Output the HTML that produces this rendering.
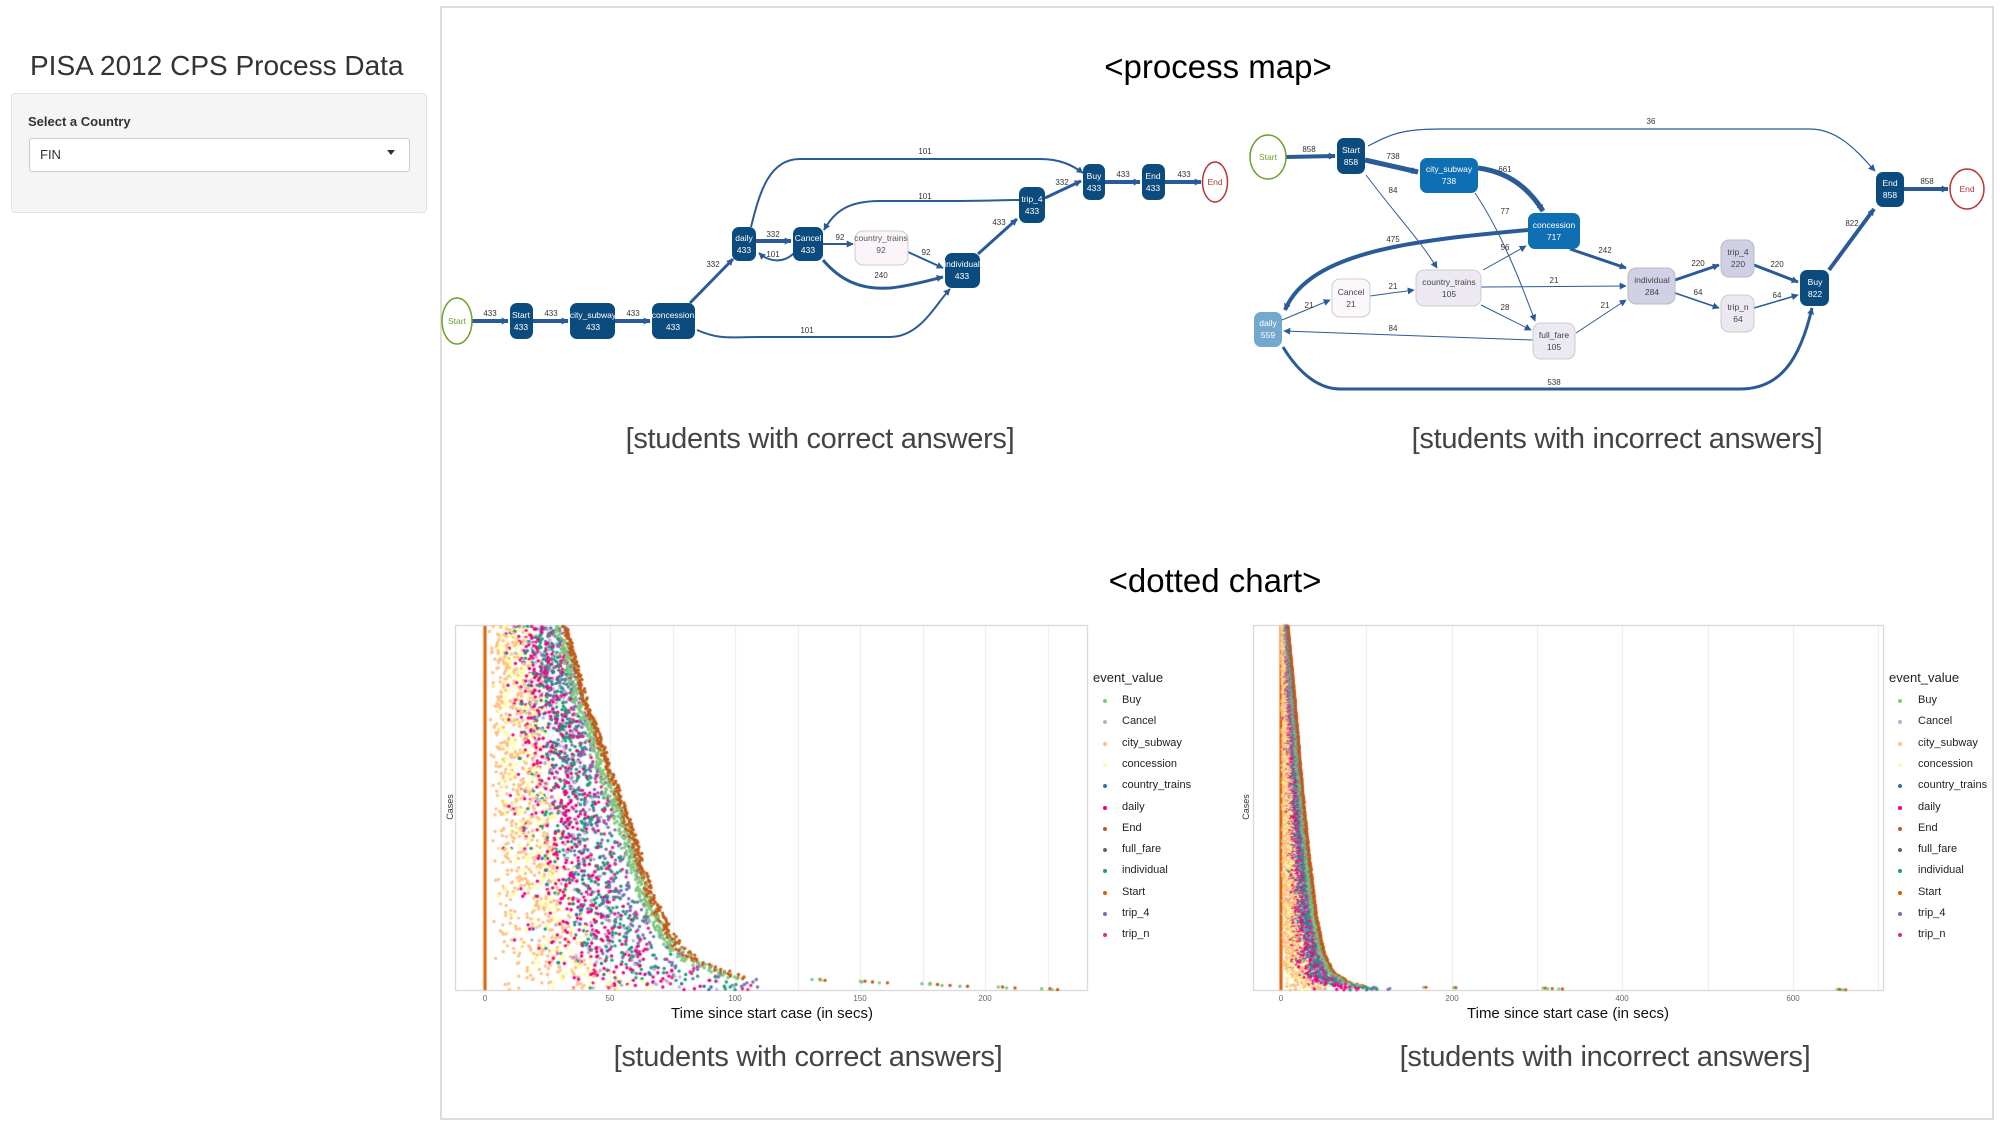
<!DOCTYPE html>
<html><head><meta charset="utf-8">
<style>
html,body{margin:0;padding:0;background:#fff;}
body{width:2000px;height:1125px;position:relative;overflow:hidden;font-family:"Liberation Sans",sans-serif;}
.abs{position:absolute;}
.title{left:30px;top:50px;font-size:28px;color:#333;white-space:nowrap;}
.side{left:11px;top:93px;width:416px;height:120px;background:#f5f5f5;border:1px solid #e3e3e3;border-radius:4px;box-sizing:border-box;}
.lbl{left:28px;top:114px;font-size:13px;font-weight:bold;color:#333;}
.sel{left:29px;top:138px;width:381px;height:34px;background:#fff;border:1px solid #ccc;border-radius:3px;box-sizing:border-box;}
.main{left:440px;top:6px;width:1554px;height:1114px;border:2px solid #ddd;border-right:2px solid #ddd;box-sizing:border-box;}
.head{font-size:33px;color:#000;white-space:nowrap;transform:translateX(-50%);}
.cap{font-size:29px;color:#444;white-space:nowrap;transform:translateX(-50%);font-weight:300;letter-spacing:-0.3px;}
.leg{font-size:11px;color:#222;white-space:nowrap;}
.lt{font-size:13px;color:#222;}
.tick{font-size:8px;color:#666;transform:translateX(-50%);}
.axt{font-size:15px;color:#111;transform:translateX(-50%);white-space:nowrap;}
.cases{font-size:9px;color:#333;transform:rotate(-90deg);transform-origin:center;}
</style></head><body>
<div class="abs title">PISA 2012 CPS Process Data</div>
<div class="abs side"></div>
<div class="abs lbl">Select a Country</div>
<div class="abs sel"></div>
<div class="abs" style="left:40px;top:147px;font-size:13px;color:#333;">FIN</div>
<div class="abs" style="left:387px;top:150px;width:0;height:0;border-left:4px solid transparent;border-right:4px solid transparent;border-top:5px solid #333;"></div>
<div class="abs main"></div>

<div class="abs head" style="left:1218px;top:48px;">&lt;process map&gt;</div>
<div class="abs head" style="left:1215px;top:562px;">&lt;dotted chart&gt;</div>
<div class="abs cap" style="left:820px;top:423px;">[students with correct answers]</div>
<div class="abs cap" style="left:1617px;top:423px;">[students with incorrect answers]</div>
<div class="abs cap" style="left:808px;top:1041px;">[students with correct answers]</div>
<div class="abs cap" style="left:1605px;top:1041px;">[students with incorrect answers]</div>

<canvas id="cv" width="2000" height="1125" class="abs" style="left:0;top:0;"></canvas>

<svg class="abs" style="left:0;top:0;" width="2000" height="1125" xmlns="http://www.w3.org/2000/svg" font-family="Liberation Sans, sans-serif">
<defs>
<marker id="ar" viewBox="0 0 10 10" refX="9" refY="5" markerWidth="7" markerHeight="7" markerUnits="userSpaceOnUse" orient="auto"><path d="M0,0L10,5L0,10z" fill="#2a5b98"/></marker>
</defs>
<g fill="none" stroke="#2a5b98" marker-end="url(#ar)">
<!-- map1 -->
<path d="M472,321L508,321" stroke-width="4"/>
<path d="M533,321L568,321" stroke-width="4"/>
<path d="M615,321L650,321" stroke-width="4"/>
<path d="M690,303L733,259" stroke-width="3"/>
<path d="M697,330C720,340 730,337 760,337L890,337C920,337 935,305 950,289" stroke-width="2"/>
<path d="M756,241L791,241" stroke-width="4"/>
<path d="M795,252C785,263 770,263 759,253" stroke-width="2"/>
<path d="M751,227C760,190 770,159 800,159L1040,159C1060,159 1072,165 1083,173" stroke-width="2"/>
<path d="M1020,200C1000,200 990,201 960,201L880,201C850,201 835,210 824,230" stroke-width="2"/>
<path d="M823,244L853,244" stroke-width="2"/>
<path d="M908,252L943,268" stroke-width="2"/>
<path d="M823,260C840,280 860,290 890,288C910,286 930,280 943,277" stroke-width="3"/>
<path d="M978,254L1017,219" stroke-width="3"/>
<path d="M1045,198L1081,181" stroke-width="3"/>
<path d="M1105,182L1140,182" stroke-width="4"/>
<path d="M1165,182L1201,182" stroke-width="4"/>
<!-- map2 -->
<path d="M1286,157L1335,156" stroke-width="4"/>
<path d="M1365,160L1418,172" stroke-width="5"/>
<path d="M1368,146C1390,135 1400,129 1440,129L1810,129C1840,129 1860,155 1875,171" stroke-width="1.2"/>
<path d="M1366,175C1400,220 1420,240 1437,268" stroke-width="1"/>
<path d="M1478,168C1510,172 1530,190 1543,211" stroke-width="5"/>
<path d="M1475,193C1500,230 1520,280 1535,321" stroke-width="1"/>
<path d="M1528,230C1420,240 1310,250 1285,310" stroke-width="4"/>
<path d="M1570,249L1626,268" stroke-width="3"/>
<path d="M1483,270L1526,246" stroke-width="1"/>
<path d="M1481,287L1626,286" stroke-width="1"/>
<path d="M1481,305L1531,330" stroke-width="1"/>
<path d="M1576,333L1626,300" stroke-width="1"/>
<path d="M1370,296L1414,290" stroke-width="1"/>
<path d="M1282,320L1330,300" stroke-width="1"/>
<path d="M1533,340L1284,331" stroke-width="1"/>
<path d="M1283,347C1300,375 1320,389 1340,389L1740,389C1780,389 1800,360 1812,308" stroke-width="3"/>
<path d="M1675,280L1719,265" stroke-width="3"/>
<path d="M1675,293L1719,308" stroke-width="1.5"/>
<path d="M1754,265L1798,282" stroke-width="3"/>
<path d="M1754,308L1798,295" stroke-width="1.5"/>
<path d="M1829,270L1874,209" stroke-width="4"/>
<path d="M1904,189L1948,189" stroke-width="4"/>
</g>
<g font-size="8" fill="#333" text-anchor="middle">
<text x="490" y="316">433</text><text x="551" y="316">433</text><text x="633" y="316">433</text>
<text x="713" y="267">332</text><text x="807" y="333">101</text><text x="773" y="237">332</text>
<text x="773" y="257">101</text><text x="925" y="154">101</text><text x="925" y="199">101</text>
<text x="840" y="240">92</text><text x="926" y="255">92</text><text x="881" y="278">240</text>
<text x="999" y="225">433</text><text x="1062" y="185">332</text><text x="1123" y="177">433</text><text x="1184" y="177">433</text>
<text x="1309" y="152">858</text><text x="1393" y="159">738</text><text x="1651" y="124">36</text>
<text x="1393" y="193">84</text><text x="1505" y="172">661</text><text x="1505" y="214">77</text>
<text x="1393" y="242">475</text><text x="1605" y="253">242</text><text x="1505" y="250">56</text>
<text x="1554" y="283">21</text><text x="1505" y="310">28</text><text x="1605" y="308">21</text>
<text x="1393" y="289">21</text><text x="1309" y="308">21</text><text x="1393" y="331">84</text>
<text x="1554" y="385">538</text><text x="1698" y="266">220</text><text x="1698" y="295">64</text>
<text x="1777" y="267">220</text><text x="1777" y="298">64</text><text x="1852" y="226">822</text><text x="1927" y="184">858</text>
</g>
<!-- nodes -->
<g font-size="8.5" text-anchor="middle">
<ellipse cx="457" cy="321" rx="15" ry="23" fill="#fff" stroke="#6aa02a" stroke-width="1.5"/><text x="457" y="324" fill="#6aa02a">Start</text>
<ellipse cx="1215" cy="182" rx="12.5" ry="20" fill="#fff" stroke="#b33" stroke-width="1.5"/><text x="1215" y="185" fill="#b33">End</text>
<ellipse cx="1268" cy="157" rx="18" ry="22" fill="#fff" stroke="#6aa02a" stroke-width="1.5"/><text x="1268" y="160" fill="#6aa02a">Start</text>
<ellipse cx="1967" cy="189" rx="17" ry="20" fill="#fff" stroke="#b33" stroke-width="1.5"/><text x="1967" y="192" fill="#b33">End</text>
</g>
<g font-size="8.5" text-anchor="middle" fill="#fff">
<rect x="510" y="303" width="23" height="36" rx="7" fill="#0c4b7d"/><text x="521" y="318">Start</text><text x="521" y="330">433</text>
<rect x="570" y="303" width="45" height="36" rx="7" fill="#0c4b7d"/><text x="593" y="318">city_subway</text><text x="593" y="330">433</text>
<rect x="652" y="303" width="43" height="36" rx="7" fill="#0c4b7d"/><text x="673" y="318">concession</text><text x="673" y="330">433</text>
<rect x="732" y="227" width="24" height="34" rx="7" fill="#0c4b7d"/><text x="744" y="241">daily</text><text x="744" y="253">433</text>
<rect x="793" y="227" width="30" height="34" rx="7" fill="#0c4b7d"/><text x="808" y="241">Cancel</text><text x="808" y="253">433</text>
<rect x="945" y="253" width="35" height="35" rx="7" fill="#0c4b7d"/><text x="962" y="267">individual</text><text x="962" y="279">433</text>
<rect x="1019" y="187" width="26" height="36" rx="7" fill="#0c4b7d"/><text x="1032" y="202">trip_4</text><text x="1032" y="214">433</text>
<rect x="1083" y="164" width="22" height="36" rx="7" fill="#0c4b7d"/><text x="1094" y="179">Buy</text><text x="1094" y="191">433</text>
<rect x="1142" y="164" width="23" height="36" rx="7" fill="#0c4b7d"/><text x="1153" y="179">End</text><text x="1153" y="191">433</text>
<rect x="1337" y="138" width="28" height="36" rx="7" fill="#0c4b7d"/><text x="1351" y="153">Start</text><text x="1351" y="165">858</text>
<rect x="1420" y="158" width="58" height="35" rx="7" fill="#0f6fb3"/><text x="1449" y="172">city_subway</text><text x="1449" y="184">738</text>
<rect x="1528" y="213" width="52" height="36" rx="7" fill="#0f6fb3"/><text x="1554" y="228">concession</text><text x="1554" y="240">717</text>
<rect x="1254" y="312" width="28" height="35" rx="7" fill="#74a9cf"/><text x="1268" y="326">daily</text><text x="1268" y="338">559</text>
<rect x="1800" y="270" width="29" height="36" rx="7" fill="#0c4b7d"/><text x="1815" y="285">Buy</text><text x="1815" y="297">822</text>
<rect x="1876" y="172" width="28" height="35" rx="7" fill="#0c4b7d"/><text x="1890" y="186">End</text><text x="1890" y="198">858</text>
</g>
<g font-size="8.5" text-anchor="middle" fill="#444" stroke-width="1">
<rect x="855" y="231" width="53" height="34" rx="8" fill="#fbf5f9" stroke="#ccc"/><text x="881" y="241" fill="#555">country_trains</text><text x="881" y="253" fill="#555">92</text>
<rect x="1332" y="279" width="38" height="38" rx="8" fill="#fbf7fb" stroke="#ccc"/><text x="1351" y="295">Cancel</text><text x="1351" y="307">21</text>
<rect x="1416" y="270" width="65" height="36" rx="8" fill="#ece9f3" stroke="#ccc"/><text x="1449" y="285">country_trains</text><text x="1449" y="297">105</text>
<rect x="1533" y="323" width="42" height="36" rx="8" fill="#ece9f3" stroke="#ccc"/><text x="1554" y="338">full_fare</text><text x="1554" y="350">105</text>
<rect x="1628" y="268" width="47" height="36" rx="8" fill="#d0d1e6" stroke="#bbb"/><text x="1652" y="283">individual</text><text x="1652" y="295">284</text>
<rect x="1721" y="240" width="33" height="37" rx="8" fill="#cfd0e6" stroke="#bbb"/><text x="1738" y="255">trip_4</text><text x="1738" y="267">220</text>
<rect x="1721" y="295" width="33" height="37" rx="8" fill="#ebe8f2" stroke="#ccc"/><text x="1738" y="310">trip_n</text><text x="1738" y="322">64</text>
</g>
</svg>

<!-- dotted chart labels -->
<div class="abs tick" style="left:485px;top:994px;">0</div>
<div class="abs tick" style="left:610px;top:994px;">50</div>
<div class="abs tick" style="left:735px;top:994px;">100</div>
<div class="abs tick" style="left:860px;top:994px;">150</div>
<div class="abs tick" style="left:985px;top:994px;">200</div>
<div class="abs axt" style="left:772px;top:1005px;">Time since start case (in secs)</div>
<div class="abs cases" style="left:437px;top:802px;">Cases</div>
<div class="abs tick" style="left:1281px;top:994px;">0</div>
<div class="abs tick" style="left:1452px;top:994px;">200</div>
<div class="abs tick" style="left:1622px;top:994px;">400</div>
<div class="abs tick" style="left:1793px;top:994px;">600</div>
<div class="abs axt" style="left:1568px;top:1005px;">Time since start case (in secs)</div>
<div class="abs cases" style="left:1233px;top:802px;">Cases</div>
<div id="leg1"></div>

<script>
var names=["Buy","Cancel","city_subway","concession","country_trains","daily","End","full_fare","individual","Start","trip_4","trip_n"];
var cols={Buy:"#7fc97f",Cancel:"#beaed4",city_subway:"#fdc086",concession:"#ffff99",country_trains:"#386cb0",daily:"#f0027f",End:"#bf5b17",full_fare:"#666666",individual:"#1b9e77",Start:"#d95f02",trip_4:"#7570b3",trip_n:"#e7298a"};
var h="";
[[1093,1105,1122],[1889,1900,1918]].forEach(function(p){
 h+='<div class="abs lt" style="left:'+p[0]+'px;top:670px;">event_value</div>';
 names.forEach(function(n,i){var y=701+i*21.3;
  h+='<div class="abs" style="left:'+(p[1]-2)+'px;top:'+(y-2)+'px;width:4px;height:4px;border-radius:50%;background:'+cols[n]+'"></div>';
  h+='<div class="abs leg" style="left:'+p[2]+'px;top:'+(y-7)+'px;">'+n+'</div>';});
});
document.getElementById("leg1").innerHTML=h;
var c=document.getElementById("cv").getContext("2d");
function mb(a){return function(){a|=0;a=a+0x6D2B79F5|0;var t=Math.imul(a^a>>>15,1|a);t=t+Math.imul(t^t>>>7,61|t)^t;return((t^t>>>14)>>>0)/4294967296;}}
function interp(pts,u){for(var i=1;i<pts.length;i++){if(u<=pts[i][0]){var a=pts[i-1],b=pts[i];return a[1]+(b[1]-a[1])*(u-a[0])/(b[0]-a[0]);}}return pts[pts.length-1][1];}
function chart(o){
 c.strokeStyle="#ccc";c.lineWidth=1;c.strokeRect(o.x+0.5,625.5,o.w,365);
 c.strokeStyle="#ebebeb";
 for(var t=0;o.x0+t*o.s<o.x+o.w;t+=o.g){var X=Math.round(o.x0+t*o.s)+0.5;c.beginPath();c.moveTo(X,626);c.lineTo(X,990);c.stroke();}
 c.fillStyle=cols.Start;c.fillRect(o.x0-1.5,626,3,364);
 var R=mb(o.seed),n=o.n,dy=364/n;
 function dot(t,y,col){c.fillStyle=col;c.beginPath();c.arc(o.x0+t*o.s,y,o.r,0,6.283);c.fill();}
 for(var i=0;i<n;i++){
  var u=i/n,y=626+(i+0.5)*dy;
  var T=interp(o.pts,u)*(0.97+R()*0.06);
  if(i>=n-o.out.length)T=o.out[i-(n-o.out.length)];
  var Te=Math.min(T,interp(o.pts,0.999));
  var cs=Te*(0.08+R()*0.4),cn=cs+R()*Te*0.15;
  dot(cs,y,cols.city_subway);dot(cn,y,cols.concession);
  if(R()<0.5)dot(Te*(0.05+R()*0.4),y,cols.city_subway);
  var d=cn+R()*(Te-cn)*0.5;dot(d,y,cols.daily);
  if(R()<0.6)dot(d+R()*(Te-d)*0.4,y,cols.Cancel);
  if(R()<0.25)dot(d+R()*(Te-d)*0.5,y,cols.country_trains);
  if(R()<0.1)dot(d+R()*(Te-d)*0.5,y,cols.full_fare);
  var iv=d+R()*(Te-d)*0.7;dot(iv,y,cols.individual);
  var tp=iv+R()*(Te-iv)*0.8;dot(tp,y,R()<o.t4?cols.trip_4:cols.trip_n);
  if(R()<0.4)dot(d+R()*(Te-d)*0.6,y,cols.daily);
  dot(T-o.bg*(0.5+R()),y,cols.Buy);
  dot(T,y,cols.End);
 }
}
chart({x:455,w:632,x0:485,s:2.5,g:25,n:433,seed:7,r:1.7,t4:0.7,bg:3,
 pts:[[0,32],[0.2,40],[0.4,50],[0.5,55],[0.6,60],[0.7,64],[0.8,70],[0.88,77],[0.93,88],[0.97,105],[0.99,118],[1,122]],
 out:[134,136,152,155,161,178,181,186,193,207,212,226,229]});
chart({x:1253,w:630,x0:1281,s:0.853,g:100,n:858,seed:11,r:1.6,t4:0.8,bg:4,
 pts:[[0,8],[0.2,16],[0.4,23],[0.6,31],[0.8,41],[0.9,50],[0.95,60],[0.98,80],[0.995,110],[1,140]],
 out:[170,205,310,318,330,655,662]});
</script>
</body></html>
